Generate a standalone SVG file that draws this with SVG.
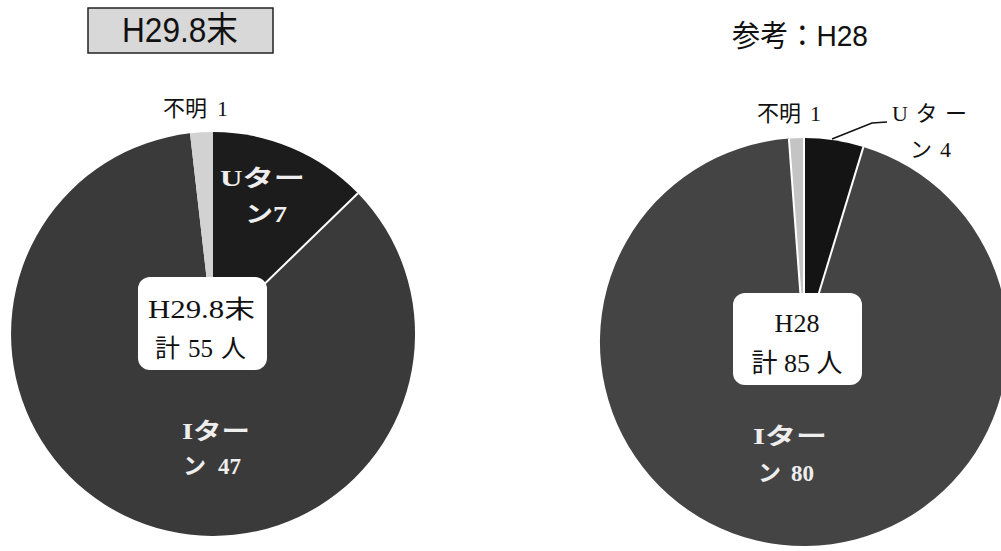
<svg xmlns="http://www.w3.org/2000/svg" width="1001" height="551" viewBox="0 0 1001 551">
<style>
.title{font-family:"Liberation Sans","Noto Sans CJK JP",sans-serif;fill:#111}
.lbl{font-family:"Liberation Serif","Noto Sans CJK JP",serif;font-size:22px;fill:#111}
.inl{font-family:"Liberation Serif","Noto Sans CJK JP",serif;font-size:23px;font-weight:bold;fill:#eeeeee}
.box{fill:#ffffff;stroke:none}
.boxt{font-family:"Liberation Serif","Noto Sans CJK JP",serif;fill:#111}
.sep{stroke:#ffffff;stroke-width:2;fill:none}
.lead{stroke:#111;stroke-width:1.5;fill:none}
</style>
<rect x="0" y="0" width="1001" height="551" fill="#ffffff"/>

<g id="pie-left">
  <path d="M213,334 L357.9,193.2 A202,202 0 1 1 190.0,133.3 Z" fill="#3a3a3a"/>
  <path d="M213,334 L213,132 A202,202 0 0 1 357.9,193.2 Z" fill="#1c1c1c"/>
  <path d="M213,334 L190.0,133.3 A202,202 0 0 1 213,132 Z" fill="#d2d2d2"/>
  <line class="sep" x1="213" y1="334" x2="357.9" y2="193.2"/>
</g>

<g id="pie-right">
  <path d="M804,342 L863.4,146.9 A204,204 0 1 1 788.9,138.6 Z" fill="#444444"/>
  <path d="M804,342 L804,138 A204,204 0 0 1 863.4,146.9 Z" fill="#141414"/>
  <path d="M804,342 L788.9,138.6 A204,204 0 0 1 804,138 Z" fill="#c4c4c4"/>
  <line class="sep" x1="804" y1="342" x2="863.4" y2="146.9"/>
  <line class="sep" x1="804" y1="342" x2="804" y2="138" stroke-width="1"/>
  <line class="sep" x1="804" y1="342" x2="788.9" y2="138.6" stroke-width="1"/>
</g>

<g id="title-left">
  <rect x="88" y="8" width="185" height="45" fill="#d8d8d8" stroke="#222" stroke-width="1.5"/>
  <text class="title" x="122" y="42" font-size="35" textLength="116" lengthAdjust="spacingAndGlyphs">H29.8末</text>
</g>

<g id="title-right">
  <text class="title" x="732" y="46" font-size="30" textLength="136" lengthAdjust="spacingAndGlyphs">参考：H28</text>
</g>

<g id="left-unknown">
  <text class="lbl" x="163" y="116">不明<tspan dx="10">1</tspan></text>
</g>

<g id="left-uturn">
  <text class="inl" x="220" y="186" textLength="85" lengthAdjust="spacingAndGlyphs">Uター</text>
  <text class="inl" x="245" y="222" textLength="42" lengthAdjust="spacingAndGlyphs">ン7</text>
</g>

<g id="left-center">
  <rect class="box" x="138" y="277" width="129" height="93" rx="12"/>
  <text class="boxt" x="148" y="318" font-size="25" textLength="107" lengthAdjust="spacingAndGlyphs">H29.8末</text>
  <text class="boxt" x="155" y="357" font-size="25">計<tspan dx="8">55</tspan><tspan dx="8">人</tspan></text>
</g>

<g id="left-iturn">
  <text class="inl" x="182" y="439" textLength="68" lengthAdjust="spacingAndGlyphs">Iター</text>
  <text class="inl" x="183" y="474">ン<tspan dx="12">47</tspan></text>
</g>

<g id="right-unknown">
  <text class="lbl" x="757" y="121">不明<tspan dx="9">1</tspan></text>
</g>

<g id="right-uturn">
  <text class="lbl" x="892" y="121" textLength="75" lengthAdjust="spacing">Uター</text>
  <text class="lbl" x="910" y="157">ン<tspan dx="8">4</tspan></text>
</g>

<g id="right-center">
  <rect class="box" x="733" y="293" width="129" height="92" rx="12"/>
  <text class="boxt" x="797" y="332" font-size="26" text-anchor="middle">H28</text>
  <text class="boxt" x="797" y="372" font-size="26" text-anchor="middle">計 85 人</text>
</g>

<g id="right-iturn">
  <text class="inl" x="753" y="444" textLength="74" lengthAdjust="spacingAndGlyphs">Iター</text>
  <text class="inl" x="758" y="481" font-size="25">ン<tspan dx="10">80</tspan></text>
</g>

<g id="connectors">
  <polyline class="lead" points="832,139 872,123 887,122"/>
</g>
</svg>
